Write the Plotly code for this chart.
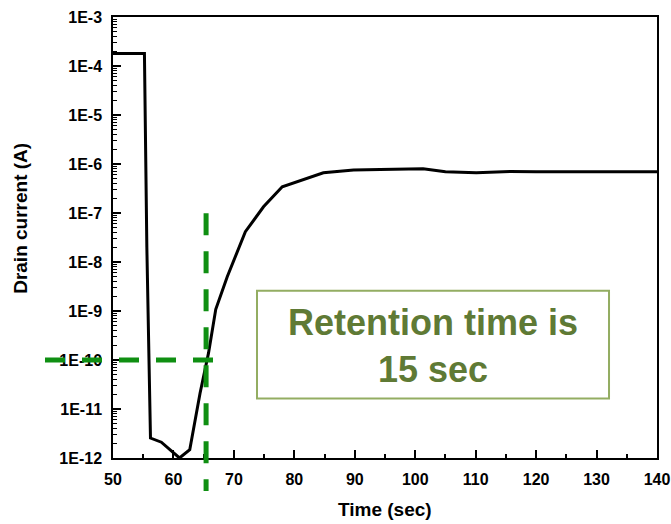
import math
import plotly.graph_objects as go

# Drain current transient measured after the gate pulse
time_s = [50.0, 55.2, 55.6, 56.2, 58.0, 61.0, 62.7, 64.4, 65.8, 67.0,
          68.9, 71.9, 74.9, 78.0, 84.8, 89.8, 94.2, 99.2, 101.3, 105.0,
          110.1, 115.7, 120.0, 130.0, 140.0]
drain_a = [1.8e-4, 1.8e-4, 2.0e-8, 2.55e-12, 2.1e-12, 1.0e-12, 1.48e-12, 2.1e-11, 1.38e-10, 1.08e-9,
           5.0e-9, 4.15e-8, 1.34e-7, 3.43e-7, 6.6e-7, 7.5e-7, 7.76e-7, 7.76e-7, 7.98e-7, 6.93e-7,
           6.6e-7, 7.06e-7, 6.93e-7, 6.93e-7, 6.93e-7]

# Retention criterion: current threshold and the time it is crossed
threshold_a = 1e-10
crossing_s = 65.4

x_ticks = [50, 60, 70, 80, 90, 100, 110, 120, 130, 140]
y_ticks = [1e-3, 1e-4, 1e-5, 1e-6, 1e-7, 1e-8, 1e-9, 1e-10, 1e-11, 1e-12]
y_ticktext = ["1E-3", "1E-4", "1E-5", "1E-6", "1E-7", "1E-8", "1E-9", "1E-10", "1E-11", "1E-12"]

X_RANGE = [50, 140]
Y_RANGE_LOG = [-12, -3]

# minor log ticks at 2..9 of each decade
y_minor = [m * 10.0 ** e for e in range(-12, -3) for m in range(2, 10)]

FONT = "Liberation Sans, Arial, sans-serif"
GREEN = "#0f8f12"

fig = go.Figure()
fig.add_trace(go.Scatter(
    x=time_s, y=drain_a, mode="lines",
    line=dict(color="black", width=3),
    showlegend=False, hoverinfo="skip",
))

fig.update_xaxes(
    range=X_RANGE, tickmode="array", tickvals=x_ticks,
    ticks="inside", ticklen=8, tickwidth=1.5, tickcolor="black",
    minor=dict(ticks="inside", ticklen=4, tickwidth=1.5, tickcolor="black", dtick=5),
    showline=True, linecolor="black", linewidth=1.5, mirror=True,
    showgrid=False, zeroline=False, ticklabelstandoff=6,
    tickfont=dict(family=FONT, size=16, color="black", weight="bold"),
)
fig.update_yaxes(
    type="log", range=Y_RANGE_LOG, tickmode="array",
    tickvals=y_ticks, ticktext=y_ticktext,
    ticks="inside", ticklen=8, tickwidth=1.5, tickcolor="black",
    minor=dict(ticks="inside", ticklen=4, tickwidth=1, tickcolor="black",
               tickmode="array", tickvals=y_minor),
    showline=True, linecolor="black", linewidth=1.5, mirror=True,
    showgrid=False, zeroline=False, ticklabelstandoff=6,
    tickfont=dict(family=FONT, size=16, color="black", weight="bold"),
)

# dashed guide lines, positioned from the threshold and crossing time
x_frac = (crossing_s - X_RANGE[0]) / (X_RANGE[1] - X_RANGE[0])
y_frac = (math.log10(threshold_a) - Y_RANGE_LOG[0]) / (Y_RANGE_LOG[1] - Y_RANGE_LOG[0])
fig.add_shape(type="line", xref="x domain", yref="y domain",
              x0=x_frac, x1=x_frac, y0=0.555, y1=-0.075,
              line=dict(color=GREEN, width=5, dash="22px,16px"), layer="above")
fig.add_shape(type="line", xref="x domain", yref="y domain",
              x0=-0.125, x1=0.1875, y0=y_frac, y1=y_frac,
              line=dict(color=GREEN, width=5, dash="20px,17px"), layer="above")

# callout box
fig.add_shape(type="rect", xref="x domain", yref="y domain",
              x0=0.2647, x1=0.9118, y0=0.1348, y1=0.3794,
              line=dict(color="#93ad62", width=2), fillcolor="white", layer="above")
fig.add_annotation(xref="x domain", yref="y domain", x=0.588, y=0.255,
                   text="Retention time is<br>15 sec", showarrow=False,
                   xanchor="center", yanchor="middle", align="center",
                   font=dict(family=FONT, size=36, color="#5f7a35", weight="bold"))

# axis titles
fig.add_annotation(xref="x domain", yref="y domain", x=0.5, y=-0.1166,
                   text="Time (sec)", showarrow=False, xanchor="center", yanchor="middle",
                   font=dict(family=FONT, size=19, color="black", weight="bold"))
fig.add_annotation(xref="x domain", yref="y domain", x=-0.169, y=0.5425,
                   text="Drain current (A)", showarrow=False, textangle=-90,
                   xanchor="center", yanchor="middle",
                   font=dict(family=FONT, size=19, color="black", weight="bold"))

fig.update_layout(
    width=671, height=524,
    margin=dict(l=113, r=14, t=17, b=65.5, autoexpand=False),
    plot_bgcolor="white", paper_bgcolor="white",
    showlegend=False,
)

fig.write_html("out.html")
